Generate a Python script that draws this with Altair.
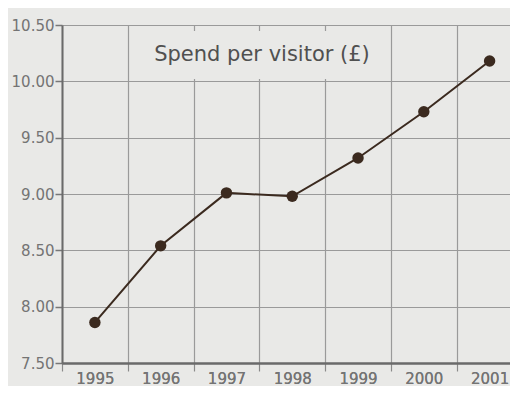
import altair as alt
import pandas as pd

years = [1995, 1996, 1997, 1998, 1999, 2000, 2001]
spend = [7.86, 8.54, 9.01, 8.98, 9.32, 9.73, 10.18]
title_text = "Spend per visitor (£)"
y_ticks = [7.5, 8.0, 8.5, 9.0, 9.5, 10.0, 10.5]
x_bounds = [1994.5, 1995.5, 1996.5, 1997.5, 1998.5, 1999.5, 2000.5]

df = pd.DataFrame({"year": years, "spend": spend})

BG = "#e9e9e7"
INK = "#3b2a1f"
FONT = "DejaVu Sans"
XDOM = [1994.5, 2001.31]

y = alt.Y(
    "spend:Q",
    scale=alt.Scale(domain=[7.5, 10.5], nice=False, zero=False),
    axis=alt.Axis(
        values=y_ticks,
        format=".2f",
        title=None,
        grid=True,
        gridColor="#9a9a9a",
        gridWidth=1.2,
        tickColor="#777777",
        tickWidth=1.5,
        tickSize=7,
        labelPadding=1,
        labelFont=FONT,
        labelFontSize=15,
        labelFontWeight="normal",
        labelColor="#747474",
        labelFlush=False,
        labelOverlap=False,
        domainColor="#6a6a6a",
        domainWidth=2,
    ),
)

x_labels = alt.X(
    "year:Q",
    scale=alt.Scale(domain=XDOM, nice=False, zero=False),
    axis=alt.Axis(
        orient="bottom",
        values=years,
        format="d",
        title=None,
        grid=False,
        ticks=True,
        tickSize=8,
        tickOpacity=0,
        labelPadding=12,
        labelBaseline="alphabetic",
        labelFont=FONT,
        labelFontSize=15,
        labelFontWeight="normal",
        labelColor="#747474",
        labelFlush=False,
        labelOverlap=False,
        domainColor="#6a6a6a",
        domainWidth=2,
    ),
)
x_grid = alt.X(
    "year:Q",
    scale=alt.Scale(domain=XDOM, nice=False, zero=False),
    axis=alt.Axis(
        orient="bottom",
        values=x_bounds,
        title=None,
        grid=True,
        gridColor="#9a9a9a",
        gridWidth=1.2,
        ticks=True,
        tickColor="#8a8a8a",
        tickWidth=1.2,
        tickSize=8,
        labels=False,
        domain=False,
    ),
)

grid_layer = alt.Chart(df).mark_point(opacity=0).encode(x=x_grid, y=y)
line = alt.Chart(df).mark_line(color=INK, strokeWidth=2).encode(x=x_labels, y=y)
pts = alt.Chart(df).mark_point(filled=True, color=INK, size=130, opacity=1).encode(
    x=x_labels, y=y
)

box = alt.Chart(pd.DataFrame({"t": [title_text]})).mark_rect(color=BG).encode(
    x=alt.value(78), x2=alt.value(323), y=alt.value(6), y2=alt.value(54)
)
label = alt.Chart(pd.DataFrame({"t": [title_text]})).mark_text(
    font=FONT, fontSize=21, color="#505050", align="center", baseline="middle"
).encode(text="t:N", x=alt.value(200), y=alt.value(30))

chart = (
    alt.layer(grid_layer, line, pts, box, label)
    .resolve_axis(x="independent")
    .properties(
        width=448,
        height=338,
        background=BG,
        padding={"left": 54, "top": 17, "right": 0, "bottom": 23},
        autosize=alt.AutoSizeParams(type="none"),
    )
    .configure_view(fill=BG, stroke=None)
)

chart.save("out.html", embed_options={"renderer": "svg", "actions": False})
